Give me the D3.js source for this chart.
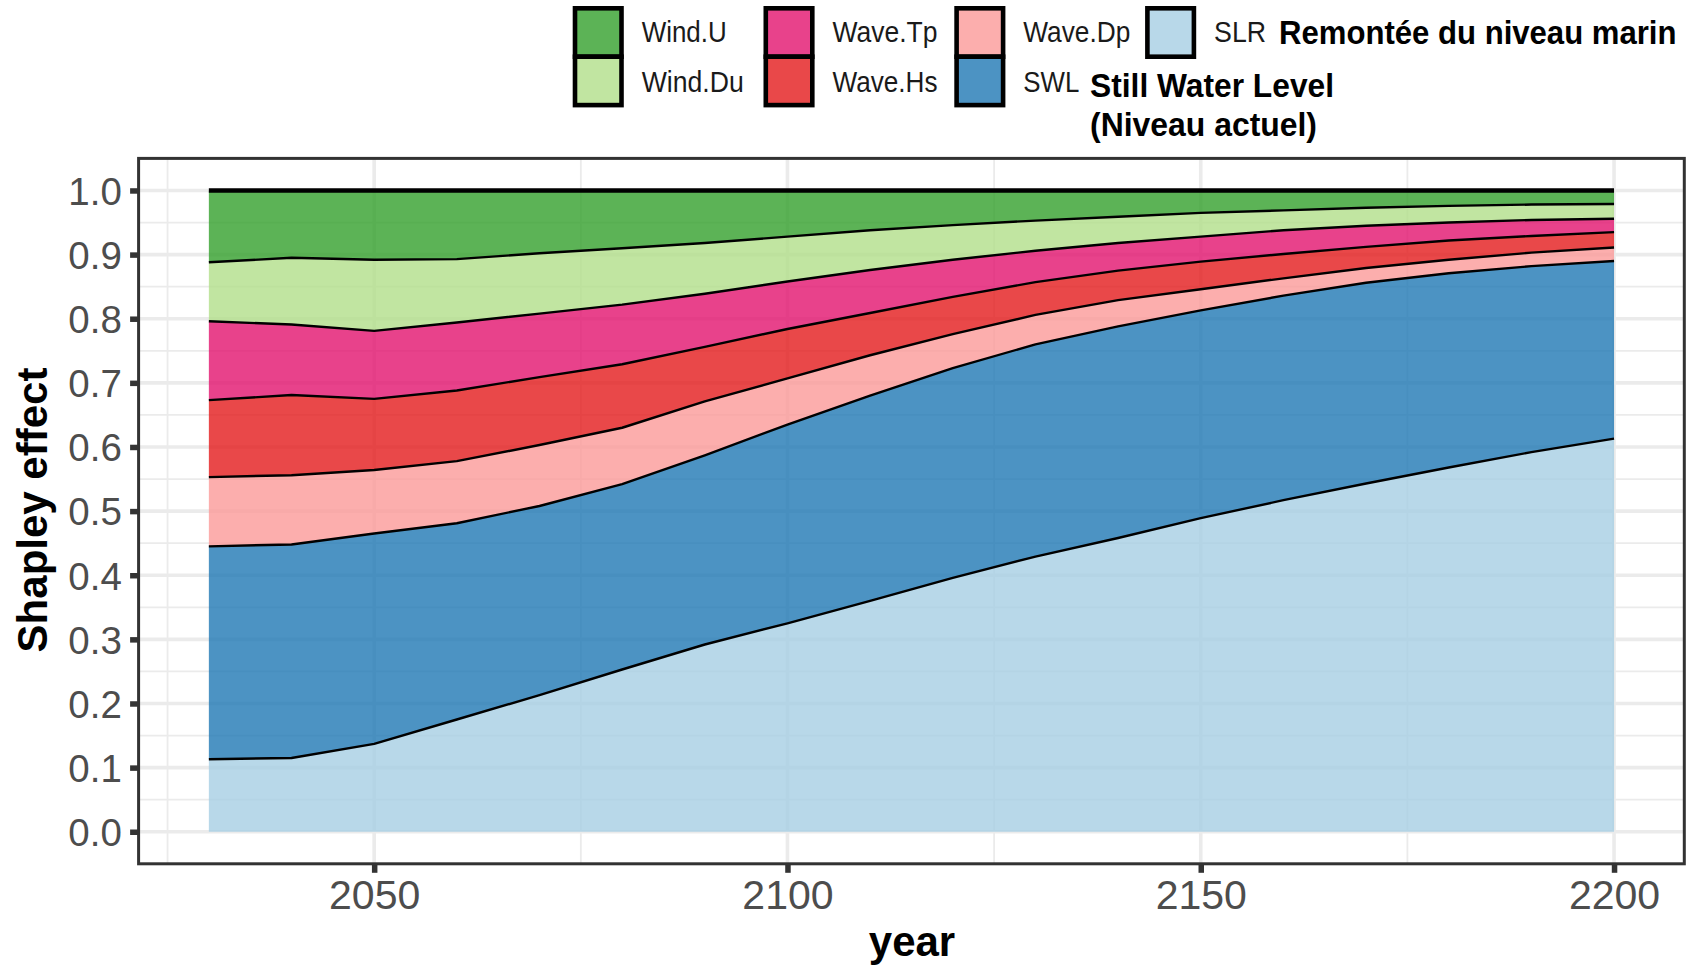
<!DOCTYPE html>
<html>
<head>
<meta charset="utf-8">
<script src="https://cdn.jsdelivr.net/npm/d3@7"></script>
<style>
  body { margin: 0; background: #ffffff; }
  svg { display: block; }
  text { font-family: "Liberation Sans", Arial, sans-serif; }
</style>
</head>
<body>
<svg id="chart" width="1695" height="968"></svg>
<script>
// ---------------- data ----------------
const years = [2030, 2040, 2050, 2060, 2070, 2080, 2090, 2100, 2110, 2120, 2130, 2140, 2150, 2160, 2170, 2180, 2190, 2200];
const SLR    = [0.113, 0.115, 0.137, 0.175, 0.213, 0.253, 0.292, 0.325, 0.360, 0.396, 0.429, 0.458, 0.489, 0.517, 0.543, 0.568, 0.592, 0.613];
const SWL    = [0.332, 0.333, 0.328, 0.306, 0.295, 0.289, 0.295, 0.310, 0.320, 0.327, 0.331, 0.330, 0.324, 0.319, 0.313, 0.303, 0.290, 0.277];
const WaveDp = [0.108, 0.108, 0.099, 0.097, 0.095, 0.088, 0.084, 0.072, 0.063, 0.053, 0.046, 0.041, 0.033, 0.027, 0.023, 0.021, 0.021, 0.021];
const WaveHs = [0.120, 0.125, 0.111, 0.110, 0.106, 0.099, 0.085, 0.077, 0.066, 0.058, 0.051, 0.046, 0.043, 0.038, 0.033, 0.030, 0.026, 0.024];
const WaveTp = [0.123, 0.110, 0.106, 0.106, 0.099, 0.093, 0.083, 0.074, 0.067, 0.058, 0.049, 0.043, 0.039, 0.037, 0.033, 0.028, 0.025, 0.021];
const WindDu = [0.092, 0.104, 0.111, 0.099, 0.094, 0.088, 0.079, 0.070, 0.062, 0.054, 0.047, 0.041, 0.037, 0.031, 0.028, 0.026, 0.024, 0.023];
const WindU  = [0.112, 0.105, 0.108, 0.107, 0.098, 0.090, 0.082, 0.072, 0.062, 0.054, 0.047, 0.041, 0.035, 0.031, 0.027, 0.024, 0.022, 0.021];

// stacking order, bottom to top
const seriesNames = ["SLR", "SWL", "Wave.Dp", "Wave.Hs", "Wave.Tp", "Wind.Du", "Wind.U"];
const seriesValues = [SLR, SWL, WaveDp, WaveHs, WaveTp, WindDu, WindU];
const seriesColors = ["#A6CEE3", "#1F78B4", "#FB9A99", "#E31A1C", "#E2136E", "#B2DF8A", "#33A02C"];

const xTicks = [2050, 2100, 2150, 2200];
const xMinor = [2025, 2075, 2125, 2175];
const yTicks = [0.0, 0.1, 0.2, 0.3, 0.4, 0.5, 0.6, 0.7, 0.8, 0.9, 1.0];

// legend layout (columns filled top to bottom)
const legendColumns = [["Wind.U", "Wind.Du"], ["Wave.Tp", "Wave.Hs"], ["Wave.Dp", "SWL"], ["SLR"]];
const legendTextWidth = { "Wind.U": 85, "Wind.Du": 102, "Wave.Tp": 105, "Wave.Hs": 105, "Wave.Dp": 107, "SWL": 56, "SLR": 52 };

// ---------------- build table ----------------
const table = years.map((yr, i) => {
  const row = { year: yr };
  seriesNames.forEach((n, k) => { row[n] = seriesValues[k][i]; });
  return row;
});
const colorOf = {};
seriesNames.forEach((n, k) => colorOf[n] = seriesColors[k]);

const stacked = d3.stack().keys(seriesNames)(table);

// ---------------- scales ----------------
const panel = { left: 138.6, right: 1684.3, top: 158.4, bottom: 863.8 };
const x = d3.scaleLinear().domain([2021.5, 2208.5]).range([panel.left, panel.right]);
const y = d3.scaleLinear().domain([-0.05, 1.05]).range([panel.bottom, panel.top]);

const svg = d3.select("#chart");
svg.append("rect").attr("width", 1695).attr("height", 968).attr("fill", "#ffffff");

// ---------------- grid ----------------
const grid = svg.append("g");
const yMinor = yTicks.slice(1).map((v, i) => (v + yTicks[i]) / 2);
grid.selectAll(".ym").data(yMinor).join("line")
  .attr("x1", panel.left).attr("x2", panel.right)
  .attr("y1", d => y(d)).attr("y2", d => y(d))
  .attr("stroke", "#EBEBEB").attr("stroke-width", 1.8);
grid.selectAll(".xm").data(xMinor).join("line")
  .attr("y1", panel.top).attr("y2", panel.bottom)
  .attr("x1", d => x(d)).attr("x2", d => x(d))
  .attr("stroke", "#EBEBEB").attr("stroke-width", 1.8);
grid.selectAll(".yM").data(yTicks).join("line")
  .attr("x1", panel.left).attr("x2", panel.right)
  .attr("y1", d => y(d)).attr("y2", d => y(d))
  .attr("stroke", "#EBEBEB").attr("stroke-width", 3.6);
grid.selectAll(".xM").data(xTicks).join("line")
  .attr("y1", panel.top).attr("y2", panel.bottom)
  .attr("x1", d => x(d)).attr("x2", d => x(d))
  .attr("stroke", "#EBEBEB").attr("stroke-width", 3.6);

// ---------------- areas ----------------
const area = d3.area()
  .x(d => x(d.data.year))
  .y0(d => y(d[0]))
  .y1(d => y(d[1]));
const upper = d3.line()
  .x(d => x(d.data.year))
  .y(d => y(d[1]));

const layers = svg.append("g");
stacked.forEach((s, k) => {
  layers.append("path")
    .attr("d", area(s))
    .attr("fill", colorOf[s.key])
    .attr("fill-opacity", 0.8);
});
stacked.forEach((s, k) => {
  layers.append("path")
    .attr("d", upper(s))
    .attr("fill", "none")
    .attr("stroke", "#000000")
    .attr("stroke-width", k === stacked.length - 1 ? 4.4 : 2.4)
    .attr("stroke-linejoin", "round");
});

// ---------------- panel border ----------------
svg.append("rect")
  .attr("x", panel.left).attr("y", panel.top)
  .attr("width", panel.right - panel.left).attr("height", panel.bottom - panel.top)
  .attr("fill", "none").attr("stroke", "#333333").attr("stroke-width", 3);

// ---------------- axes ----------------
const yAxis = svg.append("g")
  .attr("transform", `translate(${panel.left},0)`)
  .call(d3.axisLeft(y).tickValues(yTicks).tickFormat(d3.format(".1f")).tickSize(8.5).tickPadding(8.3));
yAxis.select(".domain").remove();
yAxis.selectAll(".tick line").attr("stroke", "#333333").attr("stroke-width", 5.5);
yAxis.selectAll(".tick text")
  .attr("fill", "#4D4D4D").attr("font-size", 38.5)
  .attr("font-family", "'Liberation Sans', Arial, sans-serif")
  .attr("dy", "0.36em");

const xAxis = svg.append("g")
  .attr("transform", `translate(0,${panel.bottom})`)
  .call(d3.axisBottom(x).tickValues(xTicks).tickFormat(d3.format("d")).tickSize(9).tickPadding(7));
xAxis.select(".domain").remove();
xAxis.selectAll(".tick line").attr("stroke", "#333333").attr("stroke-width", 5.5);
xAxis.selectAll(".tick text")
  .attr("fill", "#4D4D4D").attr("font-size", 41)
  .attr("font-family", "'Liberation Sans', Arial, sans-serif");

// axis titles
svg.append("text")
  .attr("transform", "translate(47,510) rotate(-90)")
  .attr("text-anchor", "middle")
  .attr("font-size", 42).attr("font-weight", "bold").attr("fill", "#000")
  .text("Shapley effect");
svg.append("text")
  .attr("x", 912).attr("y", 956)
  .attr("text-anchor", "middle")
  .attr("font-size", 42).attr("font-weight", "bold").attr("fill", "#000")
  .text("year");

// ---------------- legend ----------------
const legend = svg.append("g");
const keyX0 = 575, keyStep = 190.8, keyW = 46.5, keyH = 48.4, keyY0 = 8.3, labelOff = 66.7;
legendColumns.forEach((col, c) => {
  col.forEach((name, r) => {
    const kx = keyX0 + c * keyStep;
    const ky = keyY0 + r * keyH;
    legend.append("rect")
      .attr("x", kx).attr("y", ky).attr("width", keyW).attr("height", keyH)
      .attr("fill", "#ffffff");
    legend.append("rect")
      .attr("x", kx).attr("y", ky).attr("width", keyW).attr("height", keyH)
      .attr("fill", colorOf[name]).attr("fill-opacity", 0.8)
      .attr("stroke", "#000").attr("stroke-width", 4.6);
    legend.append("text")
      .attr("x", kx + labelOff).attr("y", ky + keyH / 2 + (r === 0 ? 9.5 : 11.5))
      .attr("font-size", 30).attr("fill", "#1a1a1a")
      .attr("textLength", legendTextWidth[name]).attr("lengthAdjust", "spacingAndGlyphs")
      .text(name);
  });
});
// bold annotations (slightly condensed like the reference)
legend.append("text")
  .attr("transform", "translate(1279,44) scale(0.915,1)")
  .attr("font-size", 34).attr("font-weight", "bold").attr("fill", "#000")
  .text("Remontée du niveau marin");
legend.append("text")
  .attr("x", 1090).attr("y", 97)
  .attr("font-size", 34).attr("font-weight", "bold").attr("fill", "#000")
  .attr("textLength", 244).attr("lengthAdjust", "spacingAndGlyphs")
  .text("Still Water Level");
legend.append("text")
  .attr("x", 1090).attr("y", 136)
  .attr("font-size", 34).attr("font-weight", "bold").attr("fill", "#000")
  .attr("textLength", 227).attr("lengthAdjust", "spacingAndGlyphs")
  .text("(Niveau actuel)");
</script>
</body>
</html>
